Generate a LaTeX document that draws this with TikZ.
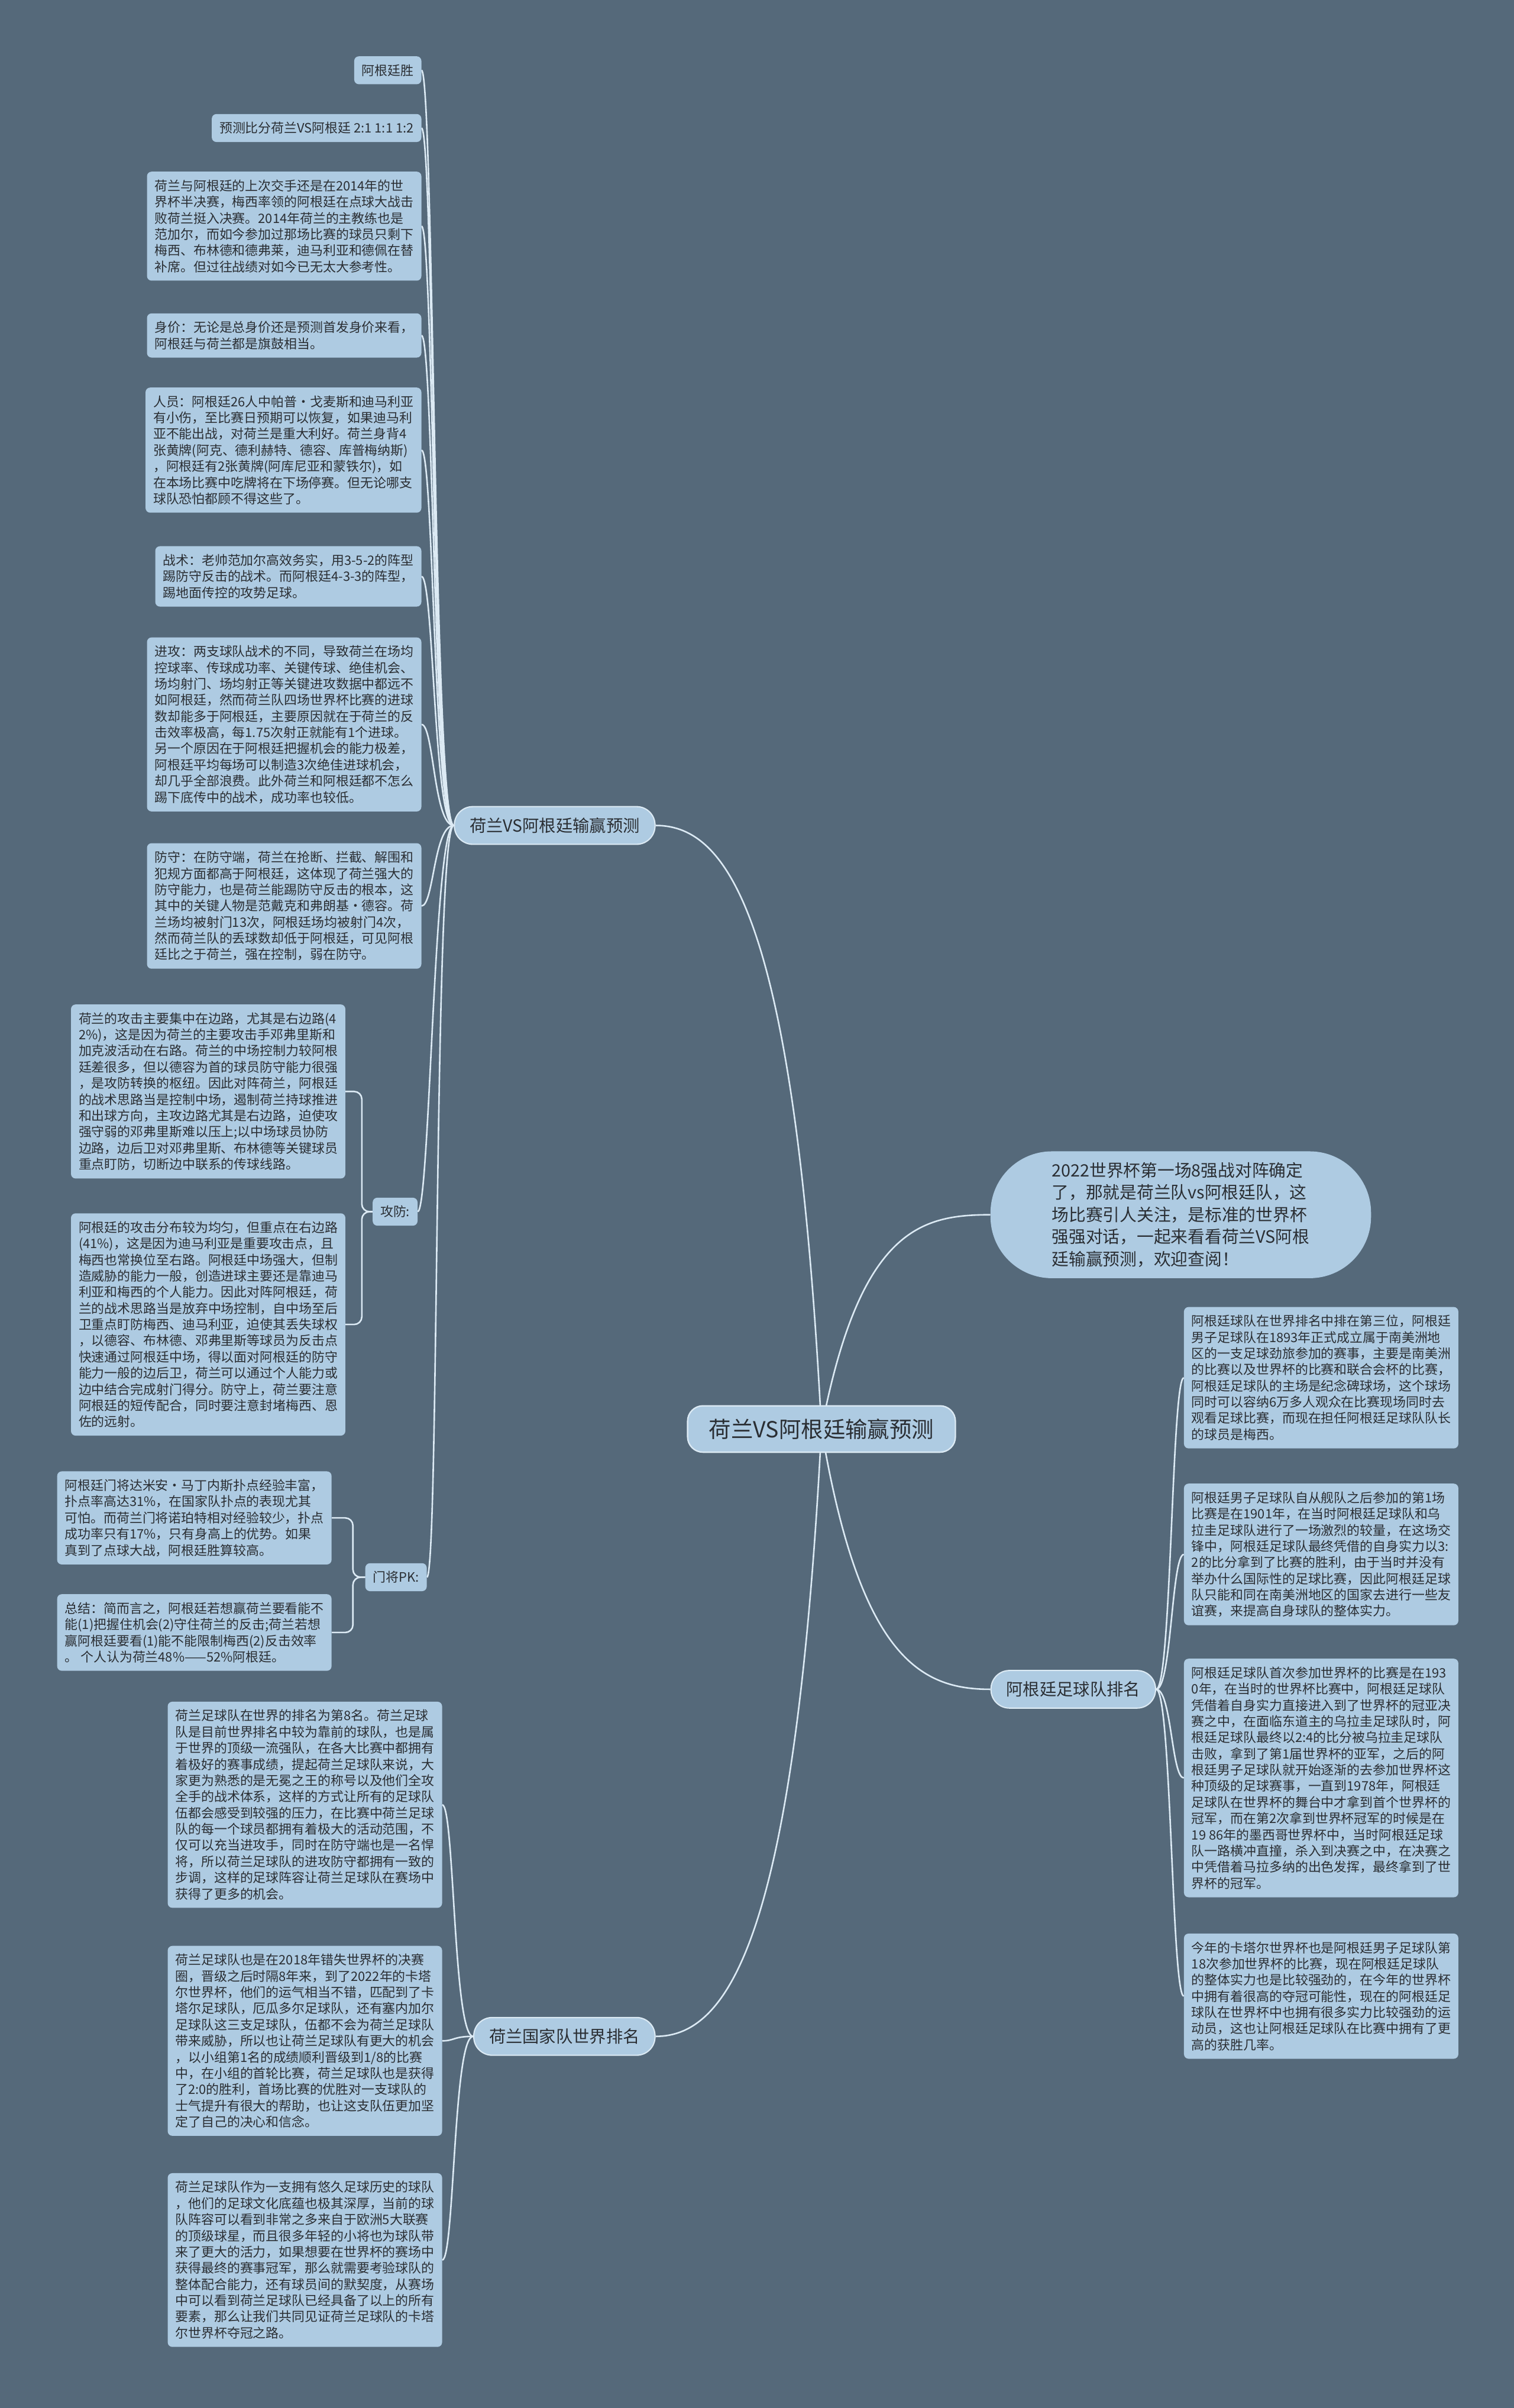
\documentclass[tikz,border=0pt]{standalone}
\usepackage{fontspec}
\setmainfont{Noto Sans CJK SC}
\usetikzlibrary{calc}
\definecolor{bgcol}{HTML}{55697A}
\definecolor{leafcol}{HTML}{AECBE2}
\definecolor{linecol}{HTML}{DCEAF4}
\definecolor{txtcol}{HTML}{2A2E33}
\pgfdeclarelayer{back}
\pgfsetlayers{back,main}

\begin{document}
\begin{tikzpicture}[x=1mm, y=-1mm,
  leaf/.style={fill=leafcol, rounded corners=3mm, align=left, text=txtcol,
    inner xsep=5mm, inner ysep=5.2mm, font=\fontsize{24}{30}\selectfont},
  branch/.style={fill=leafcol, draw=linecol, line width=0.8mm, rounded corners=12mm,
    text=txtcol, inner xsep=10mm, inner ysep=7.2mm, font=\fontsize{31}{36}\selectfont},
  rootbox/.style={fill=leafcol, draw=linecol, line width=0.9mm, rounded corners=10mm,
    text=txtcol, inner xsep=14mm, inner ysep=8.4mm, font=\fontsize{41}{46}\selectfont},
  intro/.style={fill=leafcol, rounded corners=40mm, align=left, text=txtcol,
    inner xsep=40mm, inner ysep=7.2mm, font=\fontsize{31.5}{41}\selectfont},
  link/.style={draw=linecol, line width=1mm},
  elbow/.style={draw=linecol, line width=1mm, rounded corners=5mm}]

  % Background
  \begin{pgfonlayer}{back}
    \fill[bgcol] (0,0) rectangle (986,1568);
  \end{pgfonlayer}
  \useasboundingbox (0,0) rectangle (986,1568);

  % Centre and main branches
  \node[rootbox] (root) at (535,930.5) {荷兰VS阿根廷输赢预测};
  \node[branch, anchor=east] (pred) at (427,537.5) {荷兰VS阿根廷输赢预测};
  \node[branch, anchor=east] (nlrank) at (427,1326) {荷兰国家队世界排名};
  \node[branch, anchor=west] (arrank) at (645,1100) {阿根廷足球队排名};
  \node[intro, anchor=west] (intro) at (645,791) {2022世界杯第一场8强战对阵确定\\
    了，那就是荷兰队vs阿根廷队，这\\
    场比赛引人关注，是标准的世界杯\\
    强强对话，一起来看看荷兰VS阿根\\
    廷输赢预测，欢迎查阅！};

  % Prediction leaves
  \node[leaf, anchor=north east] (win) at (274.5,36.6) {阿根廷胜};
  \node[leaf, anchor=north east] (score) at (274.5,74.2) {预测比分荷兰VS阿根廷 2:1 1:1 1:2};
  \node[leaf, anchor=north east] (past) at (274.5,111.7) {荷兰与阿根廷的上次交手还是在2014年的世\\
    界杯半决赛，梅西率领的阿根廷在点球大战击\\
    败荷兰挺入决赛。2014年荷兰的主教练也是\\
    范加尔，而如今参加过那场比赛的球员只剩下\\
    梅西、布林德和德弗莱，迪马利亚和德佩在替\\
    补席。但过往战绩对如今已无太大参考性。};
  \node[leaf, anchor=north east] (value) at (274.5,204) {身价：无论是总身价还是预测首发身价来看，\\
    阿根廷与荷兰都是旗鼓相当。};
  \node[leaf, anchor=north east] (staff) at (274.5,252.3) {人员：阿根廷26人中帕普·戈麦斯和迪马利亚\\
    有小伤，至比赛日预期可以恢复，如果迪马利\\
    亚不能出战，对荷兰是重大利好。荷兰身背4\\
    张黄牌(阿克、德利赫特、德容、库普梅纳斯)\\
    ，阿根廷有2张黄牌(阿库尼亚和蒙铁尔)，如\\
    在本场比赛中吃牌将在下场停赛。但无论哪支\\
    球队恐怕都顾不得这些了。};
  \node[leaf, anchor=north east] (tactic) at (274.5,355.6) {战术：老帅范加尔高效务实，用3-5-2的阵型\\
    踢防守反击的战术。而阿根廷4-3-3的阵型，\\
    踢地面传控的攻势足球。};
  \node[leaf, anchor=north east] (attack) at (274.5,415) {进攻：两支球队战术的不同，导致荷兰在场均\\
    控球率、传球成功率、关键传球、绝佳机会、\\
    场均射门、场均射正等关键进攻数据中都远不\\
    如阿根廷，然而荷兰队四场世界杯比赛的进球\\
    数却能多于阿根廷，主要原因就在于荷兰的反\\
    击效率极高，每1.75次射正就能有1个进球。\\
    另一个原因在于阿根廷把握机会的能力极差，\\
    阿根廷平均每场可以制造3次绝佳进球机会，\\
    却几乎全部浪费。此外荷兰和阿根廷都不怎么\\
    踢下底传中的战术，成功率也较低。};
  \node[leaf, anchor=north east] (defend) at (274.5,549) {防守：在防守端，荷兰在抢断、拦截、解围和\\
    犯规方面都高于阿根廷，这体现了荷兰强大的\\
    防守能力，也是荷兰能踢防守反击的根本，这\\
    其中的关键人物是范戴克和弗朗基·德容。荷\\
    兰场均被射门13次，阿根廷场均被射门4次，\\
    然而荷兰队的丢球数却低于阿根廷，可见阿根\\
    廷比之于荷兰，强在控制，弱在防守。};

  % Attack and defence
  \node[leaf, anchor=east] (gf) at (272,789) {攻防:};
  \node[leaf, anchor=north east] (gfnl) at (225,654) {荷兰的攻击主要集中在边路，尤其是右边路(4\\
    2\%)，这是因为荷兰的主要攻击手邓弗里斯和\\
    加克波活动在右路。荷兰的中场控制力较阿根\\
    廷差很多，但以德容为首的球员防守能力很强\\
    ，是攻防转换的枢纽。因此对阵荷兰，阿根廷\\
    的战术思路当是控制中场，遏制荷兰持球推进\\
    和出球方向，主攻边路尤其是右边路，迫使攻\\
    强守弱的邓弗里斯难以压上;以中场球员协防\\
    边路，边后卫对邓弗里斯、布林德等关键球员\\
    重点盯防，切断边中联系的传球线路。};
  \node[leaf, anchor=north east] (gfar) at (225,790) {阿根廷的攻击分布较为均匀，但重点在右边路\\
    (41\%)，这是因为迪马利亚是重要攻击点，且\\
    梅西也常换位至右路。阿根廷中场强大，但制\\
    造威胁的能力一般，创造进球主要还是靠迪马\\
    利亚和梅西的个人能力。因此对阵阿根廷，荷\\
    兰的战术思路当是放弃中场控制，自中场至后\\
    卫重点盯防梅西、迪马利亚，迫使其丢失球权\\
    ，以德容、布林德、邓弗里斯等球员为反击点\\
    快速通过阿根廷中场，得以面对阿根廷的防守\\
    能力一般的边后卫，荷兰可以通过个人能力或\\
    边中结合完成射门得分。防守上，荷兰要注意\\
    阿根廷的短传配合，同时要注意封堵梅西、恩\\
    佐的远射。};

  % Goalkeepers
  \node[leaf, anchor=east] (gk) at (278,1027) {门将PK:};
  \node[leaf, anchor=north east] (gkinfo) at (216,958) {阿根廷门将达米安·马丁内斯扑点经验丰富，\\
    扑点率高达31\%，在国家队扑点的表现尤其\\
    可怕。而荷兰门将诺珀特相对经验较少，扑点\\
    成功率只有17\%，只有身高上的优势。如果\\
    真到了点球大战，阿根廷胜算较高。};
  \node[leaf, anchor=north east] (gksum) at (216,1038) {总结：简而言之，阿根廷若想赢荷兰要看能不\\
    能(1)把握住机会(2)守住荷兰的反击;荷兰若想\\
    赢阿根廷要看(1)能不能限制梅西(2)反击效率\\
    。 个人认为荷兰48\%——52\%阿根廷。};

  % Netherlands ranking
  \node[leaf, anchor=north east] (nl1) at (288,1108) {荷兰足球队在世界的排名为第8名。荷兰足球\\
    队是目前世界排名中较为靠前的球队，也是属\\
    于世界的顶级一流强队，在各大比赛中都拥有\\
    着极好的赛事成绩，提起荷兰足球队来说，大\\
    家更为熟悉的是无冕之王的称号以及他们全攻\\
    全手的战术体系，这样的方式让所有的足球队\\
    伍都会感受到较强的压力，在比赛中荷兰足球\\
    队的每一个球员都拥有着极大的活动范围，不\\
    仅可以充当进攻手，同时在防守端也是一名悍\\
    将，所以荷兰足球队的进攻防守都拥有一致的\\
    步调，这样的足球阵容让荷兰足球队在赛场中\\
    获得了更多的机会。};
  \node[leaf, anchor=north east] (nl2) at (288,1267) {荷兰足球队也是在2018年错失世界杯的决赛\\
    圈，晋级之后时隔8年来，到了2022年的卡塔\\
    尔世界杯，他们的运气相当不错，匹配到了卡\\
    塔尔足球队，厄瓜多尔足球队，还有塞内加尔\\
    足球队这三支足球队，伍都不会为荷兰足球队\\
    带来威胁，所以也让荷兰足球队有更大的机会\\
    ，以小组第1名的成绩顺利晋级到1/8的比赛\\
    中，在小组的首轮比赛，荷兰足球队也是获得\\
    了2:0的胜利，首场比赛的优胜对一支球队的\\
    士气提升有很大的帮助，也让这支队伍更加坚\\
    定了自己的决心和信念。};
  \node[leaf, anchor=north east] (nl3) at (288,1415) {荷兰足球队作为一支拥有悠久足球历史的球队\\
    ，他们的足球文化底蕴也极其深厚，当前的球\\
    队阵容可以看到非常之多来自于欧洲5大联赛\\
    的顶级球星，而且很多年轻的小将也为球队带\\
    来了更大的活力，如果想要在世界杯的赛场中\\
    获得最终的赛事冠军，那么就需要考验球队的\\
    整体配合能力，还有球员间的默契度，从赛场\\
    中可以看到荷兰足球队已经具备了以上的所有\\
    要素，那么让我们共同见证荷兰足球队的卡塔\\
    尔世界杯夺冠之路。};

  % Argentina ranking
  \node[leaf, anchor=north west] (ar1) at (771,851) {阿根廷球队在世界排名中排在第三位，阿根廷\\
    男子足球队在1893年正式成立属于南美洲地\\
    区的一支足球劲旅参加的赛事，主要是南美洲\\
    的比赛以及世界杯的比赛和联合会杯的比赛，\\
    阿根廷足球队的主场是纪念碑球场，这个球场\\
    同时可以容纳6万多人观众在比赛现场同时去\\
    观看足球比赛，而现在担任阿根廷足球队队长\\
    的球员是梅西。};
  \node[leaf, anchor=north west] (ar2) at (771,966) {阿根廷男子足球队自从舰队之后参加的第1场\\
    比赛是在1901年，在当时阿根廷足球队和乌\\
    拉圭足球队进行了一场激烈的较量，在这场交\\
    锋中，阿根廷足球队最终凭借的自身实力以3:\\
    2的比分拿到了比赛的胜利，由于当时并没有\\
    举办什么国际性的足球比赛，因此阿根廷足球\\
    队只能和同在南美洲地区的国家去进行一些友\\
    谊赛，来提高自身球队的整体实力。};
  \node[leaf, anchor=north west] (ar3) at (771,1080) {阿根廷足球队首次参加世界杯的比赛是在193\\
    0年，在当时的世界杯比赛中，阿根廷足球队\\
    凭借着自身实力直接进入到了世界杯的冠亚决\\
    赛之中，在面临东道主的乌拉圭足球队时，阿\\
    根廷足球队最终以2:4的比分被乌拉圭足球队\\
    击败，拿到了第1届世界杯的亚军，之后的阿\\
    根廷男子足球队就开始逐渐的去参加世界杯这\\
    种顶级的足球赛事，一直到1978年，阿根廷\\
    足球队在世界杯的舞台中才拿到首个世界杯的\\
    冠军，而在第2次拿到世界杯冠军的时候是在\\
    19 86年的墨西哥世界杯中，当时阿根廷足球\\
    队一路横冲直撞，杀入到决赛之中，在决赛之\\
    中凭借着马拉多纳的出色发挥，最终拿到了世\\
    界杯的冠军。};
  \node[leaf, anchor=north west] (ar4) at (771,1259) {今年的卡塔尔世界杯也是阿根廷男子足球队第\\
    18次参加世界杯的比赛，现在阿根廷足球队\\
    的整体实力也是比较强劲的，在今年的世界杯\\
    中拥有着很高的夺冠可能性，现在的阿根廷足\\
    球队在世界杯中也拥有很多实力比较强劲的运\\
    动员，这也让阿根廷足球队在比赛中拥有了更\\
    高的获胜几率。};

  % Connectors
  \begin{pgfonlayer}{back}
    \draw[link] (root.center) .. controls (518,600) and (475,537.5) .. (pred.east);
    \draw[link] (root.center) .. controls (518,1260) and (475,1326) .. (nlrank.east);
    \draw[link] (root.center) .. controls (560,800) and (600,791) .. (intro.west);
    \draw[link] (root.center) .. controls (560,1080) and (600,1100) .. (arrank.west);
    \foreach \c in {win,score,past,value,staff,tactic,attack,defend,gf,gk}
      \draw[link] (pred.west) .. controls +(-13,0) and +(8,0) .. (\c.east);
    \foreach \c in {gfnl,gfar}
      \draw[elbow] (gf.west) -- ++(-7,0) |- (\c.east);
    \foreach \c in {gkinfo,gksum}
      \draw[elbow] (gk.west) -- ++(-8,0) |- (\c.east);
    \foreach \c in {nl1,nl2,nl3}
      \draw[link] (nlrank.west) .. controls +(-13,0) and +(8,0) .. (\c.east);
    \foreach \c in {ar1,ar2,ar3,ar4}
      \draw[link] (arrank.east) .. controls +(10,0) and +(-8,0) .. (\c.west);
  \end{pgfonlayer}
\end{tikzpicture}
\end{document}
